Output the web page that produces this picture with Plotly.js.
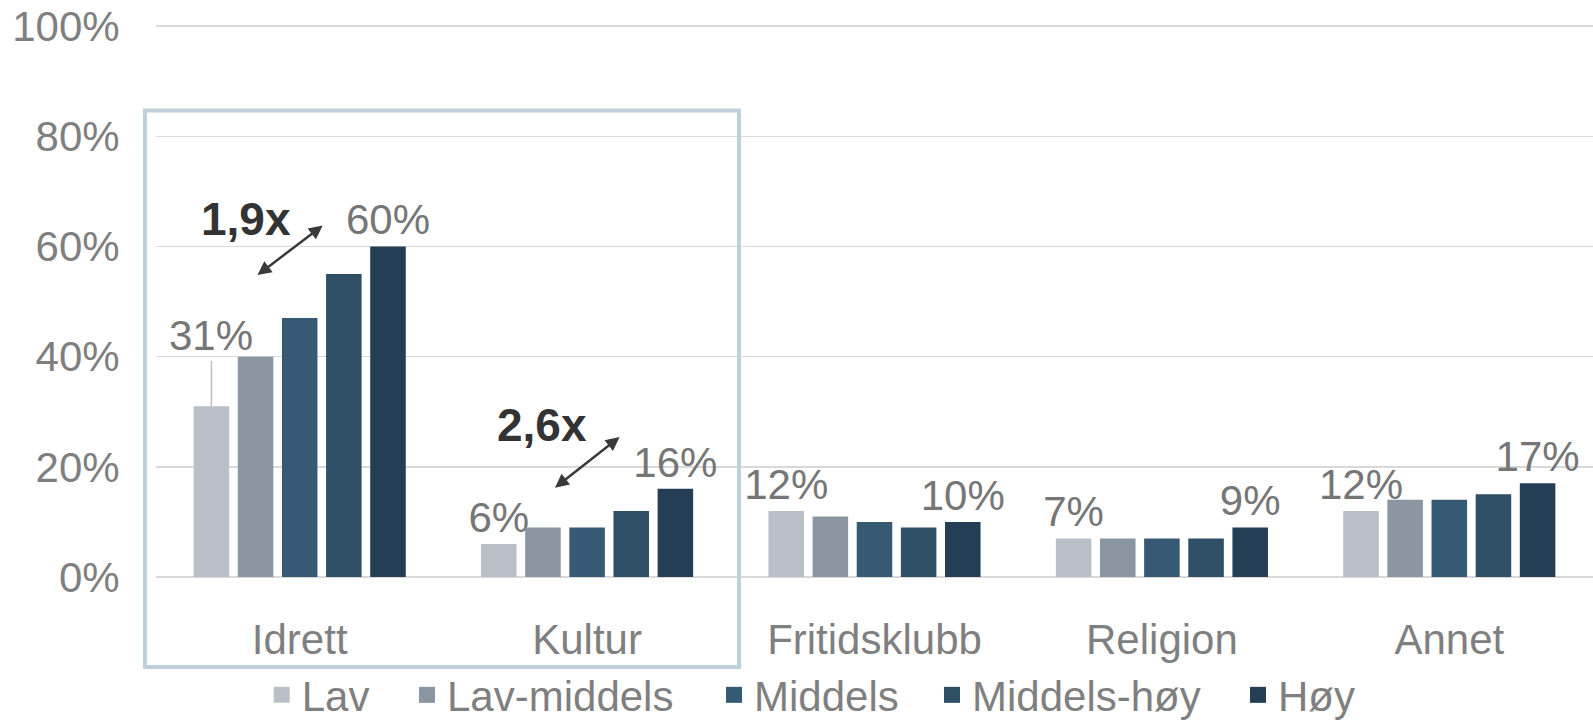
<!DOCTYPE html>
<html>
<head>
<meta charset="utf-8">
<script src="https://cdn.plot.ly/plotly-3.0.1.min.js"></script>
<style>html,body{margin:0;padding:0;background:#fff;}#chart{width:1593px;height:721px;}</style>
</head>
<body>
<div id="chart"></div>
<script>
const categories = ['Idrett', 'Kultur', 'Fritidsklubb', 'Religion', 'Annet'];
const seriesNames = ['Lav', 'Lav-middels', 'Middels', 'Middels-høy', 'Høy'];
const lav = [31, 6, 12, 7, 12];
const lavMiddels = [40, 9, 11, 7, 14];
const middels = [47, 9, 10, 7, 14];
const middelsHoy = [55, 12, 9, 7, 15];
const hoy = [60, 16, 10, 9, 17];
const yTickVals = [0, 20, 40, 60, 80, 100];
const yTickText = ['0%', '20%', '40%', '60%', '80%', '100%'];
const ratioLabels = ['1,9x', '2,6x'];

const colors = ['#b8bfc7', '#8a96a2', '#365a73', '#2e4f66', '#243f55'];
const series = [lav, lavMiddels, middels, middelsHoy, hoy];
const FONT = 'Liberation Sans, Arial, sans-serif';
const bargap = 0.232;
const slot = (1 - bargap) / 5;
// legend entry text start (px from left) for each series
const legendTextX = [301.7, 447, 754, 972, 1278];

function labelsFor(idx, vals) {
  if (idx === 0) return vals.map((v, i) => i === 0 ? '' : v + '%');
  if (idx === 4) return vals.map(v => v + '%');
  return vals.map(() => '');
}

const traces = series.map((vals, idx) => ({
  type: 'bar',
  name: seriesNames[idx],
  x: categories,
  y: vals,
  marker: {color: colors[idx]},
  text: labelsFor(idx, vals),
  textposition: 'outside',
  texttemplate: '%{text}',
  textfont: {family: FONT, size: 42, color: '#767676'},
  constraintext: 'none',
  cliponaxis: false,
  showlegend: false,
  hoverinfo: 'skip'
}));

const legendKeys = seriesNames.map((n, idx) => idx === 0 ? 'legend' : 'legend' + (idx + 1));
seriesNames.forEach((n, idx) => {
  traces.push({
    type: 'scatter', mode: 'markers', name: n,
    x: [null], y: [null],
    marker: {symbol: 'square', size: 20, color: colors[idx]},
    showlegend: true, hoverinfo: 'skip',
    legend: legendKeys[idx]
  });
});

const annotations = [];
annotations.push({
  x: 0 - 2 * slot, y: lav[0], xref: 'x', yref: 'y',
  ax: 0 - 2 * slot, ay: 43.8, axref: 'x', ayref: 'y',
  text: lav[0] + '%', showarrow: true, arrowhead: 0, arrowwidth: 1.5,
  arrowcolor: '#bfbfbf', standoff: 0,
  font: {family: FONT, size: 42, color: '#767676'}
});
const ratioSpecs = [
  {cat: 0, x0: -0.152, y0: 54.6, x1: 0.080, y1: 63.8, tx: -0.187, ty: 64.9},
  {cat: 1, x0: -0.117, y0: 16.0, x1: 0.113, y1: 25.4, tx: -0.157, ty: 27.6}
];
ratioSpecs.forEach((s, i) => {
  annotations.push({
    x: s.cat + s.x1, y: s.y1, ax: s.cat + s.x0, ay: s.y0,
    xref: 'x', yref: 'y', axref: 'x', ayref: 'y',
    text: '', showarrow: true, arrowhead: 2, arrowside: 'end+start',
    arrowsize: 1.1, arrowwidth: 2.5, arrowcolor: '#3a3a3a', standoff: 0, startstandoff: 0
  });
  annotations.push({
    x: s.cat + s.tx, y: s.ty, xref: 'x', yref: 'y', showarrow: false,
    text: '<b>' + ratioLabels[i] + '</b>',
    font: {family: FONT, size: 46, color: '#333333'}
  });
});

const layout = {
  width: 1593, height: 721,
  margin: {l: 156, r: 0, t: 25, b: 144, pad: 0, autoexpand: false},
  paper_bgcolor: '#ffffff', plot_bgcolor: '#ffffff',
  barmode: 'group', bargap: bargap, bargroupgap: 0.195,
  font: {family: FONT, color: '#7f7f7f'},
  xaxis: {
    type: 'category', showgrid: false, showline: false, zeroline: false,
    ticks: 'outside', ticklen: 26, tickcolor: 'rgba(0,0,0,0)',
    tickfont: {family: FONT, size: 42, color: '#7f7f7f'},
    range: [-0.5, 4.5], fixedrange: true
  },
  yaxis: {
    range: [0, 100.2], tickvals: yTickVals, ticktext: yTickText,
    showgrid: true, gridcolor: '#d9d9d9', gridwidth: 1.5,
    zeroline: true, zerolinecolor: '#d9d9d9', zerolinewidth: 1.5,
    showline: false, ticks: 'outside', ticklen: 27, tickcolor: 'rgba(0,0,0,0)',
    tickfont: {family: FONT, size: 42, color: '#7f7f7f'}, fixedrange: true
  },
  shapes: [{
    type: 'rect', xref: 'paper', yref: 'paper',
    x0: -0.0077, x1: 0.4057, y0: -0.163, y1: 0.845,
    line: {color: '#bdd1dc', width: 4}, fillcolor: 'rgba(0,0,0,0)', layer: 'above'
  }],
  annotations: annotations,
  showlegend: true
};

legendKeys.forEach((k, idx) => {
  layout[k] = {
    orientation: 'h', xref: 'container', x: (legendTextX[idx] - 40) / 1593, xanchor: 'left',
    yref: 'container', y: 0.036, yanchor: 'middle',
    bgcolor: 'rgba(0,0,0,0)', borderwidth: 0,
    font: {family: FONT, size: 42, color: '#7f7f7f'},
    itemclick: false, itemdoubleclick: false
  };
});

Plotly.newPlot('chart', traces, layout, {displayModeBar: false, staticPlot: true});
</script>
</body>
</html>
